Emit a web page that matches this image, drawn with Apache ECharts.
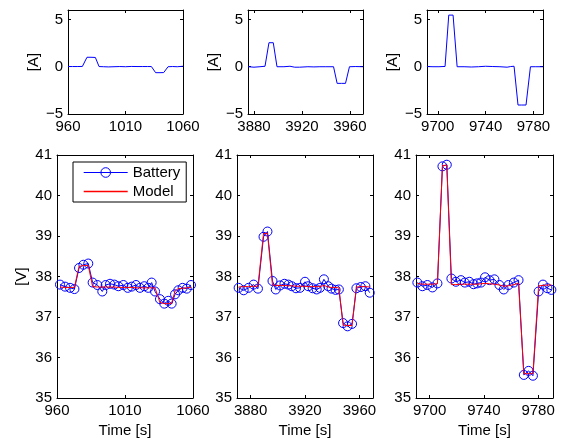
<!DOCTYPE html>
<html><head><meta charset="utf-8">
<script src="https://cdn.jsdelivr.net/npm/echarts@6/dist/echarts.min.js"></script>
<style>html,body{margin:0;padding:0;background:#fff}#c{width:571px;height:443px}</style>
</head><body><div id="c"></div>
<script>
// ---------- Current (top panels) ----------
const cur1T = [960, 964, 968, 972.5, 976.5, 980, 983.8, 987, 991, 995, 1000, 1005, 1010, 1015, 1020, 1025, 1029, 1032.5, 1036.2, 1040, 1043.2, 1047, 1051, 1055, 1060];
const cur1V = [0.02, 0.02, 0.02, 0.03, 1.0, 1.0, 0.98, 0.02, 0.0, -0.02, 0.0, 0.02, 0.0, 0.03, 0.02, 0.02, 0.02, 0.02, -0.63, -0.63, -0.62, 0.0, 0.02, 0.0, 0.05];
const cur2T = [3875, 3880, 3885, 3889.2, 3892.5, 3896.1, 3899.2, 3905, 3910, 3914, 3918, 3925, 3930, 3935, 3940, 3946.4, 3949.4, 3953, 3956.4, 3959.7, 3965, 3971];
const cur2V = [0.0, -0.05, 0.0, 0.05, 2.54, 2.54, 0.0, 0.0, 0.05, -0.05, -0.05, 0.0, -0.02, 0.0, 0.0, 0.0, -1.76, -1.76, -1.76, 0.0, 0.02, 0.0];
const cur3T = [9691, 9696, 9701, 9706.1, 9709.2, 9712.8, 9716.2, 9722, 9728, 9734, 9740, 9746, 9752, 9758, 9761, 9763.8, 9767.1, 9770, 9773.8, 9777.5, 9782, 9788];
const cur3V = [0.02, 0.0, 0.0, 0.03, 5.46, 5.46, 0.0, 0.0, -0.03, 0.0, 0.05, 0.02, 0.0, -0.05, 0.02, 0.05, -4.05, -4.05, -4.05, 0.0, 0.0, 0.0];

// ---------- Voltage (bottom panels) ----------
const bat1T = [962.2, 965.9, 969.6, 972.8, 976.2, 979.4, 983.0, 986.2, 989.7, 993.3, 995.8, 999.0, 1002.2, 1005.1, 1008.8, 1012.0, 1014.9, 1018.1, 1021.0, 1024.2, 1027.1, 1029.6, 1032.1, 1035.7, 1038.9, 1041.8, 1044.3, 1046.8, 1049.2, 1052.4, 1055.4, 1058.5];
const bat1V = [37.80, 37.75, 37.72, 37.69, 38.21, 38.29, 38.32, 37.85, 37.79, 37.63, 37.79, 37.82, 37.80, 37.76, 37.79, 37.72, 37.75, 37.79, 37.72, 37.76, 37.72, 37.85, 37.63, 37.44, 37.33, 37.40, 37.33, 37.56, 37.66, 37.72, 37.70, 37.79];
const mod1V = [37.74, 37.73, 37.73, 37.73, 38.25, 38.27, 38.27, 37.75, 37.74, 37.74, 37.74, 37.74, 37.74, 37.73, 37.73, 37.73, 37.73, 37.72, 37.72, 37.72, 37.72, 37.72, 37.72, 37.36, 37.33, 37.33, 37.34, 37.64, 37.70, 37.71, 37.72, 37.73];

const bat2T = [3871.2, 3874.9, 3878.5, 3882.2, 3885.4, 3889.5, 3892.4, 3896.1, 3898.5, 3901.7, 3904.9, 3907.8, 3910.3, 3913.4, 3916.3, 3920.0, 3922.4, 3925.6, 3928.6, 3931.0, 3933.9, 3937.1, 3939.5, 3942.5, 3944.9, 3948.0, 3951.3, 3954.6, 3957.8, 3961.0, 3964.4, 3967.6];
const bat2V = [37.72, 37.66, 37.72, 37.80, 37.70, 38.98, 39.11, 37.89, 37.68, 37.78, 37.82, 37.80, 37.76, 37.71, 37.72, 37.87, 37.76, 37.71, 37.68, 37.72, 37.93, 37.76, 37.70, 37.67, 37.68, 36.85, 36.77, 36.83, 37.71, 37.74, 37.76, 37.60];
const mod2V = [37.74, 37.75, 37.75, 37.76, 37.76, 39.06, 39.07, 37.79, 37.78, 37.78, 37.78, 37.77, 37.77, 37.76, 37.76, 37.76, 37.75, 37.75, 37.75, 37.75, 37.78, 37.74, 37.73, 37.73, 37.72, 36.80, 36.79, 36.79, 37.74, 37.75, 37.75, 37.74];

const bat3T = [9691.0, 9694.7, 9698.4, 9702.1, 9705.8, 9709.5, 9712.7, 9716.1, 9719.4, 9723.1, 9726.0, 9729.3, 9732.4, 9735.0, 9737.9, 9740.9, 9744.1, 9747.8, 9751.5, 9754.7, 9758.2, 9762.1, 9765.6, 9769.5, 9773.0, 9776.2, 9780.4, 9783.6, 9786.9, 9789.8];
const bat3V = [37.85, 37.76, 37.79, 37.73, 37.83, 40.72, 40.76, 37.95, 37.87, 37.91, 37.85, 37.87, 37.81, 37.83, 37.85, 37.98, 37.91, 37.93, 37.79, 37.68, 37.79, 37.85, 37.91, 35.57, 35.67, 35.55, 37.63, 37.80, 37.71, 37.67];
const mod3V = [37.83, 37.81, 37.81, 37.81, 37.82, 40.74, 40.75, 37.80, 37.80, 37.81, 37.81, 37.81, 37.81, 37.81, 37.82, 37.83, 37.82, 37.81, 37.79, 37.76, 37.77, 37.80, 37.83, 35.60, 35.60, 35.60, 37.77, 37.78, 37.79, 37.79];

// ---------- Axes ----------
const xTicks = [[960, 1010, 1060], [3880, 3920, 3960], [9700, 9740, 9780]];
const xRangeTop = [[960, 1060], [3875, 3971], [9691, 9788]];
const xRangeBot = [[960, 1060], [3870, 3970], [9690, 9791]];
const yTicksTop = [-5, 0, 5];
const yRangeTop = [-5, 6];
const yTicksBot = [35, 36, 37, 38, 39, 40, 41];
const yRangeBot = [35, 41];

const FONT = 'Liberation Sans, Arial, Helvetica, sans-serif';
const fmt = v => (v < 0 ? '\u2212' + Math.abs(v) : String(v));

const gridsPos = [
  {left: 68, top: 10, width: 115, height: 104},
  {left: 248, top: 10, width: 115, height: 104},
  {left: 427, top: 10, width: 116, height: 104},
  {left: 57, top: 155, width: 136, height: 246},
  {left: 237, top: 155, width: 136, height: 246},
  {left: 416, top: 155, width: 137, height: 246}
];

const grid = [], xAxis = [], yAxis = [], series = [];
const lineAx = {show: true, onZero: false, lineStyle: {color: '#000', width: 1}};
const tickAx = (vals) => ({show: true, inside: true, length: 3, customValues: vals, lineStyle: {color: '#000', width: 1}});

for (let i = 0; i < 6; i++) {
  const top = i < 3;
  const k = i % 3;
  grid.push(Object.assign({containLabel: false}, gridsPos[i]));
  const xr = top ? xRangeTop[k] : xRangeBot[k];
  const yr = top ? yRangeTop : yRangeBot;
  const yt = top ? yTicksTop : yTicksBot;
  xAxis.push({
    type: 'value', gridIndex: i, position: 'bottom', min: xr[0], max: xr[1],
    axisLine: lineAx, axisTick: tickAx(xTicks[k]), splitLine: {show: false},
    axisLabel: {customValues: xTicks[k], formatter: fmt, color: '#000', fontSize: 15, fontFamily: FONT, margin: 5, showMinLabel: true, showMaxLabel: true},
    name: top ? '' : 'Time [s]', nameLocation: 'middle', nameGap: 25,
    nameTextStyle: {color: '#000', fontSize: 15, fontFamily: FONT}
  });
  xAxis.push({
    type: 'value', gridIndex: i, position: 'top', min: xr[0], max: xr[1],
    axisLine: lineAx, axisTick: tickAx(xTicks[k]), splitLine: {show: false}, axisLabel: {show: false}
  });
  let yName = '';
  if (top) yName = '[A]'; else if (k === 0) yName = '[V]';
  yAxis.push({
    type: 'value', gridIndex: i, position: 'left', min: yr[0], max: yr[1],
    axisLine: lineAx, axisTick: tickAx(yt), splitLine: {show: false},
    axisLabel: {customValues: yt, formatter: fmt, color: '#000', fontSize: 15, fontFamily: FONT, margin: 5},
    name: yName, nameLocation: 'middle', nameGap: top ? 27 : 28, nameRotate: 90,
    nameTextStyle: {color: '#000', fontSize: 15, fontFamily: FONT}
  });
  yAxis.push({
    type: 'value', gridIndex: i, position: 'right', min: yr[0], max: yr[1],
    axisLine: lineAx, axisTick: tickAx(yt), splitLine: {show: false}, axisLabel: {show: false}
  });
}

const pairs = (t, v) => t.map((x, j) => [x, v[j]]);
const curT = [cur1T, cur2T, cur3T], curV = [cur1V, cur2V, cur3V];
for (let k = 0; k < 3; k++) {
  series.push({
    type: 'line', name: 'Current', xAxisIndex: 2 * k, yAxisIndex: 2 * k,
    data: pairs(curT[k], curV[k]), showSymbol: false, symbol: 'none',
    lineStyle: {color: '#0000ff', width: 1}, itemStyle: {color: '#0000ff'}, animation: false
  });
}
const batT = [bat1T, bat2T, bat3T], batV = [bat1V, bat2V, bat3V], modV = [mod1V, mod2V, mod3V];
for (let k = 0; k < 3; k++) {
  const gi = 3 + k;
  series.push({
    type: 'line', name: 'Battery', xAxisIndex: 2 * gi, yAxisIndex: 2 * gi,
    data: pairs(batT[k], batV[k]), symbol: 'circle', symbolSize: 9, showAllSymbol: true,
    lineStyle: {color: '#0000ff', width: 1},
    itemStyle: {color: 'rgba(0,0,0,0)', borderColor: '#0000ff', borderWidth: 1},
    z: 2, animation: false
  });
  series.push({
    type: 'line', name: 'Model', xAxisIndex: 2 * gi, yAxisIndex: 2 * gi,
    data: pairs(batT[k], modV[k]), symbol: 'none', showSymbol: false,
    lineStyle: {color: '#ff0000', width: 1}, itemStyle: {color: '#ff0000'},
    z: 3, animation: false
  });
}

const chart = echarts.init(document.getElementById('c'), null, {renderer: 'canvas'});
chart.setOption({
  animation: false,
  backgroundColor: '#fff',
  grid, xAxis, yAxis, series,
  legend: {
    data: [
      {name: 'Battery', itemStyle: {color: 'rgba(0,0,0,0)', borderColor: '#0000ff', borderWidth: 1}, lineStyle: {color: '#0000ff', width: 1}},
      {name: 'Model', itemStyle: {color: 'rgba(0,0,0,0)', borderColor: 'rgba(0,0,0,0)', borderWidth: 0}, lineStyle: {color: '#ff0000', width: 1.4}}
    ],
    orient: 'vertical', left: 73, top: 162,
    backgroundColor: '#fff', borderColor: '#000', borderWidth: 1, borderRadius: 0,
    padding: [3, 6, 3, 10], itemWidth: 44, itemHeight: 12, itemGap: 4,
    textStyle: {color: '#000', fontSize: 15, fontFamily: FONT}
  }
});
</script></body></html>
